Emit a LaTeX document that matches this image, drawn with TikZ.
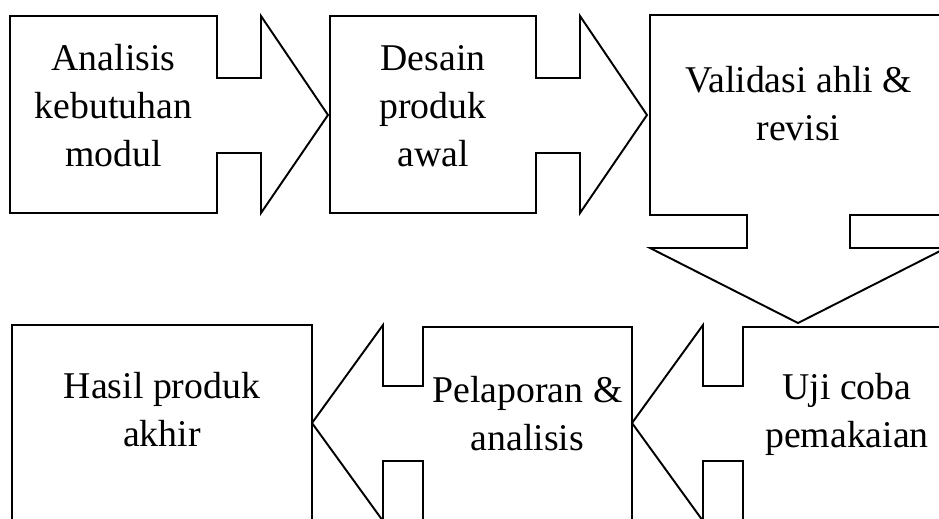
\documentclass[tikz,border=0pt]{standalone}
\usepackage{fontspec}
\setmainfont{Liberation Serif}
\tikzset{
    stage/.style = {draw, line width = 1.1pt, line join = miter},
    stagetext/.style = {align = center, inner sep = 0pt,
        font = \fontsize{21.5}{27.3}\selectfont},
}
\begin{document}
\begin{tikzpicture}[x = 0.02cm, y = -0.02cm]
        \clip (0, 0) rectangle (939, 518);
        % first row, arrows to the right
        \draw[stage] (10, 16) -- (217, 16) -- (217, 78) -- (261, 78) -- (261, 16) -- (328, 115)
            -- (261, 213) -- (261, 153) -- (217, 153) -- (217, 213) -- (10, 213) -- cycle;
        \draw[stage] (330, 16) -- (536, 16) -- (536, 78) -- (580, 78) -- (580, 16) -- (647, 115)
            -- (580, 213) -- (580, 153) -- (536, 153) -- (536, 213) -- (330, 213) -- cycle;
        % box with the arrow down
        \draw[stage] (650, 15) -- (947, 15) -- (947, 215) -- (850, 215) -- (850, 248) -- (946, 248)
            -- (798, 323) -- (650, 248) -- (747, 248) -- (747, 215) -- (650, 215) -- cycle;
        % second row, arrows to the left
        \draw[stage] (312, 525) -- (312, 325) -- (12, 325) -- (12, 525);
        \draw[stage] (632, 525) -- (632, 327) -- (423, 327) -- (423, 386) -- (383, 386) -- (383, 325)
            -- (312, 423) -- (383, 521) -- (383, 461) -- (423, 461) -- (423, 525);
        \draw[stage] (951, 327) -- (743, 327) -- (743, 386) -- (703, 386) -- (703, 325)
            -- (632, 423) -- (703, 521) -- (703, 461) -- (743, 461) -- (743, 525);
        % labels
        \node[stagetext] (analisis) at (113.5, 106) {Analisis\\kebutuhan\\modul};
        \node[stagetext] (desain) at (433, 106) {Desain\\produk\\awal};
        \node[stagetext] (validasi) at (798.5, 104) {Validasi ahli \&\\revisi};
        \node[stagetext] (uji) at (847, 414) {Uji coba\\pemakaian};
        \node[stagetext] (lapor) at (527.5, 414) {Pelaporan \&\\analisis};
        \node[stagetext] (hasil) at (162, 410) {Hasil produk\\akhir};
    \end{tikzpicture}
\end{document}
